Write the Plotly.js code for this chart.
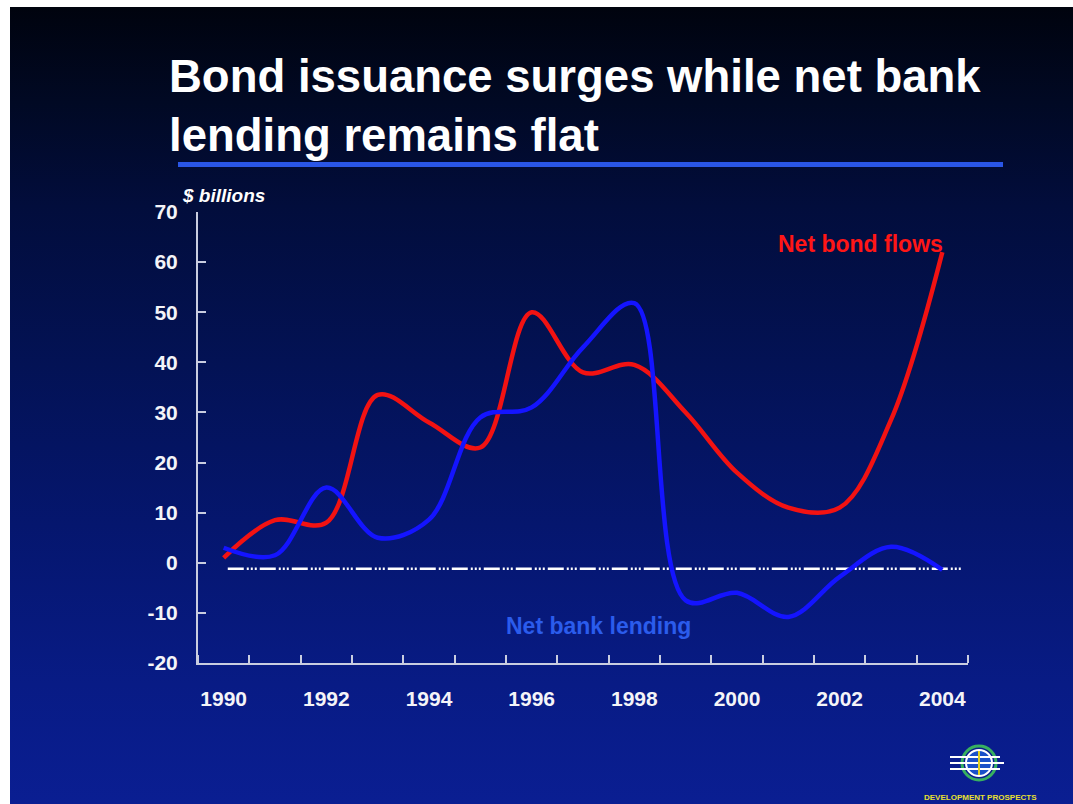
<!DOCTYPE html>
<html>
<head>
<meta charset="utf-8">
<script src="https://cdn.plot.ly/plotly-3.0.1.min.js"></script>
<style>
  html, body { margin: 0; padding: 0; background: #ffffff; }
  #bg { position: absolute; left: 10px; top: 7px; width: 1063px; height: 797px;
        background: linear-gradient(to bottom, #00030e 0%, #010924 12%, #020d3c 25%, #031255 45%, #05166e 65%, #081b85 85%, #0a1e92 100%); }
  #chart { position: absolute; left: 0; top: 0; width: 1073px; height: 804px; }
</style>
</head>
<body>
<div id="bg"></div>
<div id="chart"></div>
<script>
// ---- data ----
const years = [1990, 1991, 1992, 1993, 1994, 1995, 1996, 1997, 1998, 1999, 2000, 2001, 2002, 2003, 2004];
const netBondFlows   = [1, 8.5, 8, 33.5, 28, 23, 50, 38, 39.5, 30, 18, 11, 11, 28.5, 62];
const netBankLending = [3, 1.5, 15, 5, 8.6, 29, 31, 43, 51.8, -7.5, -6, -10.8, -2.8, 3.2, -1.4];
const labelYears = [1990, 1992, 1994, 1996, 1998, 2000, 2002, 2004];
const yTicks = [-20, -10, 0, 10, 20, 30, 40, 50, 60, 70];
const baselineLevel = -1.2;
const chartTitle = 'Bond issuance surges while net bank<br>lending remains flat';
const bondLabel = 'Net bond flows';
const bankLabel = 'Net bank lending';
const unitLabel = '<i>$ billions</i>';
const logoText = 'DEVELOPMENT PROSPECTS';

// ---- layout helpers ----
const boundaries = years.map(y => y - 0.5).concat([years[years.length - 1] + 0.5]);
const axisColor = '#c9cde0';
const bold = 'bold';
const sans = 'Liberation Sans, Arial, sans-serif';

const traces = [
  { x: years, y: netBondFlows, type: 'scatter', mode: 'lines', name: bondLabel,
    line: { color: '#f21212', width: 4.5, shape: 'spline', smoothing: 1 }, hoverinfo: 'x+y' },
  { x: years, y: netBankLending, type: 'scatter', mode: 'lines', name: bankLabel,
    line: { color: '#1414ff', width: 4.5, shape: 'spline', smoothing: 1 }, hoverinfo: 'x+y' }
];

// paper helpers (plot area pixel box)
const L = 198, R = 968, T = 212, B = 663;
const px = v => (v - L) / (R - L);
const py = v => (B - v) / (B - T);

const layout = {
  width: 1073, height: 804,
  margin: { l: L, r: 1073 - R, t: T, b: 804 - B },
  paper_bgcolor: 'rgba(0,0,0,0)',
  plot_bgcolor: 'rgba(0,0,0,0)',
  showlegend: false,
  title: {
    text: chartTitle,
    xref: 'container', yref: 'container',
    x: 169 / 1073, xanchor: 'left',
    y: 1 - 92 / 804, yanchor: 'top',
    font: { family: sans, size: 45.5, color: '#ffffff', weight: bold }
  },
  xaxis: {
    type: 'linear', range: [boundaries[0], boundaries[boundaries.length - 1]],
    tickmode: 'array', tickvals: labelYears, ticktext: labelYears.map(String),
    ticks: '', showgrid: false, zeroline: false,
    showline: true, linecolor: axisColor, linewidth: 2,
    ticklabelstandoff: 16,
    tickfont: { family: sans, size: 21, color: '#f4f4f8', weight: bold },
    minor: { tickmode: 'array', tickvals: boundaries, ticks: 'inside', ticklen: 8, tickwidth: 2, tickcolor: axisColor, showgrid: false }
  },
  xaxis2: {
    overlaying: 'x', matches: 'x', anchor: 'y', side: 'bottom',
    type: 'linear', range: [boundaries[0], boundaries[boundaries.length - 1]],
    showticklabels: false, showline: false, showgrid: false, zeroline: false,
    ticks: '', tickmode: 'array', tickvals: labelYears,
    minor: { tickmode: 'array', tickvals: boundaries, ticks: 'outside', ticklen: 7, tickwidth: 2, tickcolor: axisColor, showgrid: false }
  },
  yaxis: {
    range: [yTicks[0], yTicks[yTicks.length - 1]],
    tickmode: 'array', tickvals: yTicks, ticktext: yTicks.map(String),
    ticks: 'inside', ticklen: 8, tickwidth: 2, tickcolor: axisColor,
    showgrid: false, zeroline: false,
    showline: true, linecolor: axisColor, linewidth: 2,
    ticklabelstandoff: 14,
    tickfont: { family: sans, size: 21, color: '#f4f4f8', weight: bold }
  },
  shapes: [
    // dashed reference line near zero
    { type: 'line', xref: 'x', yref: 'y', x0: years[0] + 0.08, x1: years[years.length - 1] + 0.36,
      y0: baselineLevel, y1: baselineLevel, layer: 'below',
      line: { color: '#ffffff', width: 2.5, dash: '16px,3px,2px,2px,2px,2px,2px,3px' } },
    // title underline
    { type: 'line', xref: 'paper', yref: 'paper', x0: px(178), x1: px(1003), y0: py(164.5), y1: py(164.5),
      line: { color: '#2a56e6', width: 5 } },
    // logo globe
    { type: 'circle', xref: 'paper', yref: 'paper', x0: px(962), x1: px(996), y0: py(746), y1: py(780),
      line: { color: '#38b060', width: 3 } },
    { type: 'circle', xref: 'paper', yref: 'paper', x0: px(966), x1: px(992), y0: py(750), y1: py(776),
      fillcolor: '#1a50c8', line: { color: '#ffffff', width: 2 } },
    { type: 'line', xref: 'paper', yref: 'paper', x0: px(950), x1: px(1000), y0: py(757), y1: py(757), line: { color: '#ffffff', width: 2 } },
    { type: 'line', xref: 'paper', yref: 'paper', x0: px(950), x1: px(1004), y0: py(763), y1: py(763), line: { color: '#ffffff', width: 2 } },
    { type: 'line', xref: 'paper', yref: 'paper', x0: px(950), x1: px(1000), y0: py(769), y1: py(769), line: { color: '#ffffff', width: 2 } },
    { type: 'line', xref: 'paper', yref: 'paper', x0: px(979), x1: px(979), y0: py(751), y1: py(775), line: { color: '#e0d020', width: 2 } }
  ],
  annotations: [
    { text: bondLabel, xref: 'x', yref: 'y', x: 2002.4, y: 63.7, showarrow: false,
      font: { family: sans, size: 23, color: '#ff1616', weight: bold } },
    { text: bankLabel, xref: 'x', yref: 'y', x: 1997.3, y: -12.6, showarrow: false,
      font: { family: sans, size: 23, color: '#2b5cec', weight: bold } },
    { text: unitLabel, xref: 'paper', yref: 'paper', x: px(180), y: py(195), xanchor: 'left', yanchor: 'middle', showarrow: false,
      font: { family: sans, size: 19, color: '#ffffff', weight: bold } },
    { text: logoText, xref: 'paper', yref: 'paper', x: px(980), y: py(797), xanchor: 'center', yanchor: 'middle', showarrow: false,
      font: { family: sans, size: 8, color: '#e8e030', weight: bold } }
  ]
};

Plotly.newPlot('chart', traces, layout, { displayModeBar: false, staticPlot: true });
</script>
</body>
</html>
